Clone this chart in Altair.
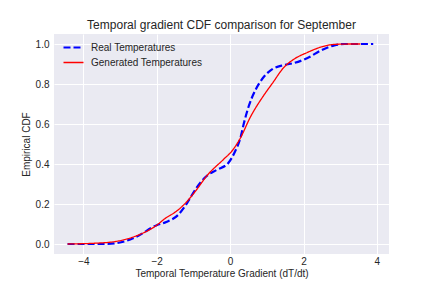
import altair as alt
import pandas as pd

real_x = [-4.43, -3.39, -2.94, -2.57, -2.0, -1.74, -1.42, -1.19, -0.92, -0.64, -0.37, -0.05,
          0.14, 0.28, 0.37, 0.50, 0.69, 0.92, 1.15, 1.47, 1.74, 2.11, 2.48, 2.84, 3.12, 3.9]
real_y = [0.0, 0.0, 0.01, 0.035, 0.094, 0.11, 0.145, 0.20, 0.28, 0.34, 0.37, 0.405,
          0.465, 0.53, 0.60, 0.685, 0.77, 0.836, 0.874, 0.895, 0.905, 0.93, 0.968, 0.993, 1.0, 1.0]

gen_x = [-4.43, -3.39, -2.57, -2.0, -1.79, -1.42, -1.19, -0.92, -0.64, -0.18, 0.05, 0.28,
         0.55, 0.92, 1.15, 1.47, 1.74, 2.11, 2.48, 2.84, 3.3, 3.55]
gen_y = [0.0, 0.007, 0.04, 0.094, 0.125, 0.17, 0.21, 0.27, 0.34, 0.423, 0.465, 0.53,
         0.634, 0.744, 0.803, 0.884, 0.924, 0.958, 0.985, 0.998, 1.0, 1.0]

series = ["Real Temperatures", "Generated Temperatures"]

rows = []
for i, (x, y) in enumerate(zip(real_x, real_y)):
    rows.append({"x": x, "y": y, "s": series[0], "o": i})
for i, (x, y) in enumerate(zip(gen_x, gen_y)):
    rows.append({"x": x, "y": y, "s": series[1], "o": i})
df = pd.DataFrame(rows)

font = "Liberation Sans"
txt = "#262626"

leg = dict(title=None, orient="none", legendX=8, legendY=6,
           symbolType="stroke", symbolSize=400, clipHeight=15,
           symbolStrokeWidth=2, labelFontSize=10,
           labelFont=font, labelColor=txt, rowPadding=0, labelOffset=6)

chart = alt.Chart(df).mark_line(interpolate="monotone").encode(
    x=alt.X("x:Q", scale=alt.Scale(domain=[-4.8, 4.33], nice=False, zero=False),
            axis=alt.Axis(values=[-4, -2, 0, 2, 4], format="d",
                          title="Temporal Temperature Gradient (dT/dt)",
                          labelPadding=2, titlePadding=2)),
    y=alt.Y("y:Q", scale=alt.Scale(domain=[-0.05, 1.05], nice=False, zero=False),
            axis=alt.Axis(values=[0, 0.2, 0.4, 0.6, 0.8, 1.0], format=".1f",
                          title="Empirical CDF", labelPadding=5, titlePadding=4)),
    color=alt.Color("s:N", scale=alt.Scale(domain=series, range=["#0000ff", "#ff0000"]),
                    legend=alt.Legend(**leg)),
    strokeDash=alt.StrokeDash("s:N", scale=alt.Scale(domain=series, range=[[7, 3], [1, 0]]),
                              legend=alt.Legend(**leg)),
    strokeWidth=alt.StrokeWidth("s:N", scale=alt.Scale(domain=series, range=[2.2, 1.3]), legend=None),
    order="o:Q",
).properties(
    width=335, height=220,
    title=alt.Title("Temporal gradient CDF comparison for September", fontSize=12,
                    font=font, color=txt, fontWeight="normal", offset=2),
    autosize=alt.AutoSizeParams(type="none"),
    padding={"left": 46, "top": 26, "right": 35, "bottom": 30},
).configure_view(
    fill="#EAEAF2", stroke=None
).configure_axis(
    grid=True, gridColor="white", gridWidth=1, domain=False, ticks=False,
    labelFont=font, labelFontSize=10, labelColor=txt,
    titleFont=font, titleFontSize=10, titleColor=txt, titleFontWeight="normal"
)

chart.save("out.html", embed_options={"renderer": "svg", "actions": False})
